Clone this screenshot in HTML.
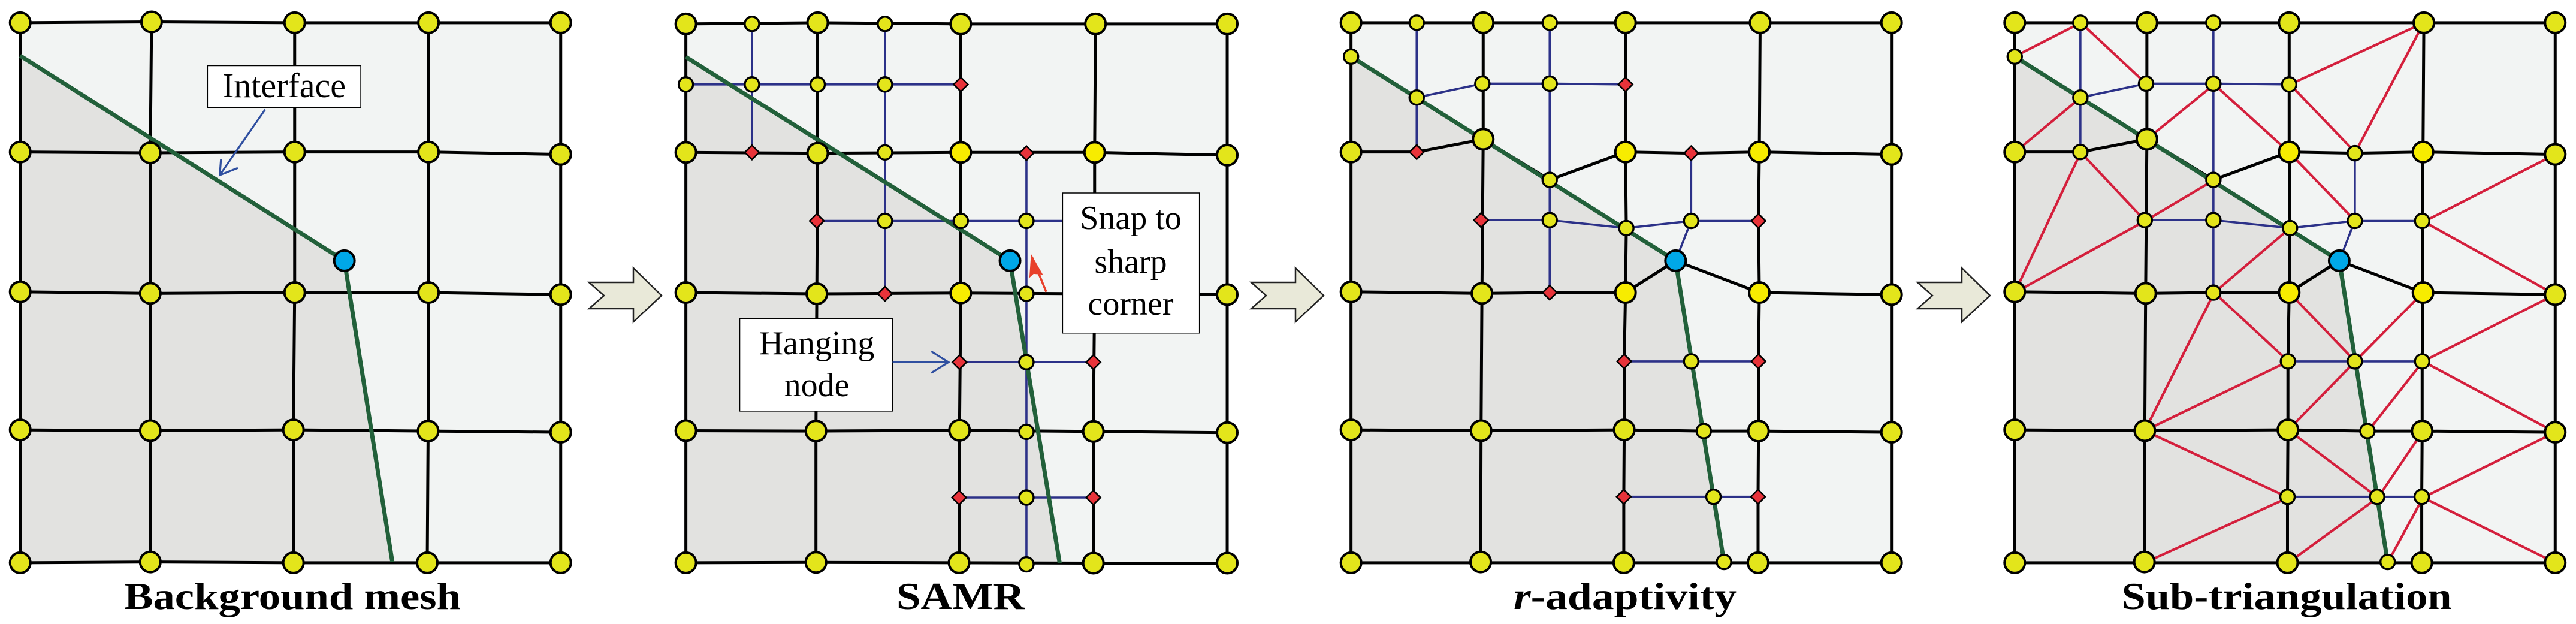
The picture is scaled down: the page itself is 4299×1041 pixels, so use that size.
<!DOCTYPE html>
<html><head><meta charset="utf-8"><style>
html,body{margin:0;padding:0;background:#fff;width:4299px;height:1041px;overflow:hidden}
svg{display:block}
svg *{vector-effect:non-scaling-stroke}
.lt{fill:#f2f4f3;stroke:none}
.dk{fill:#e2e2e0;stroke:none}
.k{fill:none;stroke:#000;stroke-width:5;stroke-linejoin:round}
.bl{fill:none;stroke:#2c3188;stroke-width:3.6}
.rd{fill:none;stroke:#d41f3c;stroke-width:4.2}
.gr{fill:none;stroke:#22603a;stroke-width:7;stroke-linejoin:round}
.n{fill:#e3e51b;stroke:#000;stroke-width:4}
.nb{fill:#f7ec00;stroke:#000;stroke-width:4}
.m{fill:#e3e51b;stroke:#000;stroke-width:3.4}
.c{fill:#00a8e8;stroke:#000;stroke-width:4}
.d{fill:#e8333a;stroke:#000;stroke-width:2.6}
.ch{fill:#e9e9d9;stroke:#222;stroke-width:2.5}
.t{font-family:"Liberation Serif",serif;fill:#000}
</style></head><body>
<svg width="4299" height="1041" viewBox="0 0 4299 1041" xmlns="http://www.w3.org/2000/svg">

<!-- PANEL 1 -->
<g transform="translate(0,0) scale(0.7025,0.664)">
<polygon class="lt" points="48,57 1332,57 1332,1414 48,1414"/>
<polygon class="dk" points="48,140 818,655 932,1412 48,1414"/>
<polyline class="k" points="48,57 360,55 700,57 1018,57 1332,57"/>
<polyline class="k" points="48,382 357,384 700,382 1018,382 1332,388"/>
<polyline class="k" points="48,733 357,737 700,735 1018,735 1332,740"/>
<polyline class="k" points="48,1080 357,1082 697,1080 1017,1083 1332,1086"/>
<polyline class="k" points="48,1414 357,1412 697,1414 1015,1414 1332,1414"/>
<polyline class="k" points="48,57 48,1414"/>
<polyline class="k" points="360,55 357,384 357,737 357,1082 357,1412"/>
<polyline class="k" points="700,57 700,382 700,735 697,1080 697,1414"/>
<polyline class="k" points="1018,57 1018,382 1018,735 1017,1083 1015,1414"/>
<polyline class="k" points="1332,57 1332,1414"/>
<polyline class="gr" points="48,140 818,655 932,1412"/>
<g class="n">
<ellipse cx="48" cy="57" rx="24.2" ry="25.6"/><ellipse cx="360" cy="55" rx="24.2" ry="25.6"/><ellipse cx="700" cy="57" rx="24.2" ry="25.6"/><ellipse cx="1018" cy="57" rx="24.2" ry="25.6"/><ellipse cx="1332" cy="57" rx="24.2" ry="25.6"/>
<ellipse cx="48" cy="382" rx="24.2" ry="25.6"/><ellipse cx="357" cy="384" rx="24.2" ry="25.6"/><ellipse cx="700" cy="382" rx="24.2" ry="25.6"/><ellipse cx="1018" cy="382" rx="24.2" ry="25.6"/><ellipse cx="1332" cy="388" rx="24.2" ry="25.6"/>
<ellipse cx="48" cy="733" rx="24.2" ry="25.6"/><ellipse cx="357" cy="737" rx="24.2" ry="25.6"/><ellipse cx="700" cy="735" rx="24.2" ry="25.6"/><ellipse cx="1018" cy="735" rx="24.2" ry="25.6"/><ellipse cx="1332" cy="740" rx="24.2" ry="25.6"/>
<ellipse cx="48" cy="1080" rx="24.2" ry="25.6"/><ellipse cx="357" cy="1082" rx="24.2" ry="25.6"/><ellipse cx="697" cy="1080" rx="24.2" ry="25.6"/><ellipse cx="1017" cy="1083" rx="24.2" ry="25.6"/><ellipse cx="1332" cy="1086" rx="24.2" ry="25.6"/>
<ellipse cx="48" cy="1414" rx="24.2" ry="25.6"/><ellipse cx="357" cy="1412" rx="24.2" ry="25.6"/><ellipse cx="697" cy="1414" rx="24.2" ry="25.6"/><ellipse cx="1015" cy="1414" rx="24.2" ry="25.6"/><ellipse cx="1332" cy="1414" rx="24.2" ry="25.6"/>
</g>
<ellipse class="c" cx="818" cy="655" rx="24.2" ry="25.6"/>
<rect x="493" y="165" width="364" height="105" fill="#fff" stroke="#000" stroke-width="1.5"/>
<polyline points="630,275 522,440" fill="none" stroke="#2f4fa0" stroke-width="3.2"/>
<polyline points="525,400 522,440 565,422" fill="none" stroke="#2f4fa0" stroke-width="3.2"/>
</g>
<text class="t" x="474" y="162" font-size="58" text-anchor="middle">Interface</text>

<!-- PANEL 2 -->
<g transform="translate(1080,0) scale(0.7025,0.664)">
<polygon class="lt" points="92,60 1378,60 1378,1415 92,1414"/>
<polygon class="dk" points="92,143 862,655 980,1415 92,1414"/>
<polyline class="k" points="92,60 405,57 745,60 1065,60 1378,60"/>
<polyline class="k" points="92,383 405,385 745,383 1063,383 1378,390"/>
<polyline class="k" points="92,735 403,738 745,736 1063,738 1378,740"/>
<polyline class="k" points="92,1082 401,1083 742,1081 1060,1084 1378,1087"/>
<polyline class="k" points="92,1414 401,1413 741,1414 1060,1415 1378,1415"/>
<polyline class="k" points="92,60 92,1414"/>
<polyline class="k" points="405,57 405,385 403,738 401,1083 401,1413"/>
<polyline class="k" points="745,60 745,383 745,736 742,1081 741,1414"/>
<polyline class="k" points="1065,60 1063,383 1063,738 1060,1084 1060,1415"/>
<polyline class="k" points="1378,60 1378,1415"/>
<polyline class="bl" points="92,212 745,212"/>
<polyline class="bl" points="249,60 249,383"/>
<polyline class="bl" points="565,60 565,736"/>
<polyline class="bl" points="403,555 1063,555"/>
<polyline class="bl" points="901,385 901,1418"/>
<polyline class="bl" points="742,910 1060,910"/>
<polyline class="bl" points="741,1250 1060,1250"/>
<polyline class="gr" points="92,143 862,655 980,1415"/>
<g class="n">
<ellipse cx="92" cy="60" rx="24.2" ry="25.6"/><ellipse cx="405" cy="57" rx="24.2" ry="25.6"/><ellipse cx="745" cy="60" rx="24.2" ry="25.6"/><ellipse cx="1065" cy="60" rx="24.2" ry="25.6"/><ellipse cx="1378" cy="60" rx="24.2" ry="25.6"/>
<ellipse cx="92" cy="383" rx="24.2" ry="25.6"/><ellipse cx="405" cy="385" rx="24.2" ry="25.6"/><ellipse cx="1378" cy="390" rx="24.2" ry="25.6"/>
<ellipse cx="92" cy="735" rx="24.2" ry="25.6"/><ellipse cx="403" cy="738" rx="24.2" ry="25.6"/><ellipse cx="1378" cy="740" rx="24.2" ry="25.6"/>
<ellipse cx="92" cy="1082" rx="24.2" ry="25.6"/><ellipse cx="401" cy="1083" rx="24.2" ry="25.6"/><ellipse cx="742" cy="1081" rx="24.2" ry="25.6"/><ellipse cx="1060" cy="1084" rx="24.2" ry="25.6"/><ellipse cx="1378" cy="1087" rx="24.2" ry="25.6"/>
<ellipse cx="92" cy="1414" rx="24.2" ry="25.6"/><ellipse cx="401" cy="1413" rx="24.2" ry="25.6"/><ellipse cx="741" cy="1414" rx="24.2" ry="25.6"/><ellipse cx="1060" cy="1415" rx="24.2" ry="25.6"/><ellipse cx="1378" cy="1415" rx="24.2" ry="25.6"/>
</g>
<g class="nb"><ellipse cx="745" cy="383" rx="24.2" ry="25.6"/><ellipse cx="1063" cy="383" rx="24.2" ry="25.6"/><ellipse cx="745" cy="736" rx="24.2" ry="25.6"/></g>
<g class="m">
<ellipse cx="249" cy="60" rx="17.1" ry="18.1"/><ellipse cx="565" cy="60" rx="17.1" ry="18.1"/><ellipse cx="92" cy="212" rx="17.1" ry="18.1"/><ellipse cx="249" cy="212" rx="17.1" ry="18.1"/><ellipse cx="405" cy="212" rx="17.1" ry="18.1"/><ellipse cx="565" cy="212" rx="17.1" ry="18.1"/><ellipse cx="565" cy="383" rx="17.1" ry="18.1"/><ellipse cx="565" cy="555" rx="17.1" ry="18.1"/><ellipse cx="745" cy="555" rx="17.1" ry="18.1"/><ellipse cx="901" cy="555" rx="17.1" ry="18.1"/><ellipse cx="901" cy="738" rx="17.1" ry="18.1"/><ellipse cx="901" cy="910" rx="17.1" ry="18.1"/><ellipse cx="901" cy="1085" rx="17.1" ry="18.1"/><ellipse cx="901" cy="1250" rx="17.1" ry="18.1"/><ellipse cx="901" cy="1418" rx="17.1" ry="18.1"/>
</g>
<g class="d">
<polygon points="745,194 762,212 745,230 728,212"/><polygon points="249,365 266,383 249,401 232,383"/><polygon points="901,367 918,385 901,403 884,385"/><polygon points="403,537 420,555 403,573 386,555"/><polygon points="565,720 582,738 565,756 548,738"/><polygon points="742,892 759,910 742,928 725,910"/><polygon points="1060,892 1077,910 1060,928 1043,910"/><polygon points="741,1232 758,1250 741,1268 724,1250"/><polygon points="1060,1232 1077,1250 1060,1268 1043,1250"/>
</g>
<ellipse class="c" cx="862" cy="655" rx="24.2" ry="25.6"/>
<rect x="987" y="485" width="325" height="352" fill="#fff" stroke="#000" stroke-width="1.5"/>
<rect x="220" y="800" width="363" height="233" fill="#fff" stroke="#000" stroke-width="1.5"/>
<polyline points="948,733 914,645" fill="none" stroke="#e8402a" stroke-width="3.5"/>
<polygon points="912,638 940,690 918,688 908,698" fill="#e8402a"/>
<polyline points="583,910 716,910" fill="none" stroke="#2f4fa0" stroke-width="3.2"/>
<polyline points="675,883 716,910 675,937" fill="none" stroke="#2f4fa0" stroke-width="3.2"/>
</g>
<text class="t" font-size="56" text-anchor="middle"><tspan x="1887" y="382">Snap to</tspan><tspan x="1887" y="455">sharp</tspan><tspan x="1887" y="525">corner</tspan></text>
<text class="t" font-size="56" text-anchor="middle"><tspan x="1363" y="591">Hanging</tspan><tspan x="1363" y="661">node</tspan></text>

<!-- PANEL 3 base -->
<g id="p3base" transform="translate(2150,0) scale(0.7025,0.664)">
<polygon class="lt" points="149,57 1433,57 1433,1414 149,1414"/>
<polygon class="dk" points="149,142 920,655 1035,1412 149,1414"/>
<polyline class="k" points="149,57 1433,57"/>
<polyline class="k" points="149,57 149,1414"/>
<polyline class="k" points="149,382 305,382 463,350 621,452 801,382 957,385 1119,382 1433,388"/>
<polyline class="k" points="463,57 463,350 460,737 458,1082 457,1412"/>
<polyline class="k" points="801,57 801,382 803,573 801,735 798,908 798,1080 797,1248 797,1414"/>
<polyline class="k" points="1121,57 1119,382 1117,555 1119,735 1117,908 1117,1083 1116,1248 1116,1414"/>
<polyline class="k" points="1433,57 1433,1414"/>
<polyline class="k" points="149,733 460,737 621,735 801,735 920,655 1119,735 1433,740"/>
<polyline class="k" points="149,1080 458,1082 798,1080 987,1083 1117,1083 1433,1086"/>
<polyline class="k" points="149,1414 1433,1414"/>
<polyline class="bl" points="305,57 305,382"/>
<polyline class="bl" points="305,245 461,210 621,210 801,212"/>
<polyline class="bl" points="621,57 621,735"/>
<polyline class="bl" points="458,553 621,553 803,573 957,555 1117,555"/>
<polyline class="bl" points="957,385 957,555 920,655"/>
<polyline class="bl" points="798,908 957,908 1117,908"/>
<polyline class="bl" points="797,1248 1010,1248 1116,1248"/>
</g>

<!-- PANEL 4 base via reuse + red -->
<use href="#p3base" transform="translate(1107.6,0)"/>
<g transform="translate(3200,0) scale(0.7025,0.664)">
<g class="rd">
<line x1="231" y1="142" x2="388" y2="57"/><line x1="388" y1="57" x2="543" y2="210"/><line x1="388" y1="245" x2="231" y2="383"/><line x1="545" y1="350" x2="705" y2="212"/><line x1="705" y1="212" x2="883" y2="383"/><line x1="885" y1="212" x2="1203" y2="57"/><line x1="885" y1="212" x2="1040" y2="383"/><line x1="1040" y1="383" x2="1203" y2="57"/><line x1="388" y1="383" x2="231" y2="735"/><line x1="388" y1="383" x2="541" y2="555"/><line x1="541" y1="555" x2="231" y2="735"/><line x1="541" y1="555" x2="705" y2="452"/><line x1="883" y1="383" x2="1040" y2="555"/><line x1="885" y1="573" x2="705" y2="735"/><line x1="1203" y1="557" x2="1515" y2="388"/><line x1="1203" y1="557" x2="1515" y2="740"/><line x1="705" y1="735" x2="540" y2="1082"/><line x1="705" y1="735" x2="881" y2="908"/><line x1="883" y1="735" x2="1040" y2="908"/><line x1="1040" y1="908" x2="1201" y2="735"/><line x1="881" y1="908" x2="540" y2="1082"/><line x1="1040" y1="908" x2="881" y2="1080"/><line x1="1201" y1="908" x2="1515" y2="740"/><line x1="1201" y1="908" x2="1515" y2="1086"/><line x1="1201" y1="908" x2="1069" y2="1085"/><line x1="540" y1="1082" x2="881" y2="1250"/><line x1="881" y1="1080" x2="1094" y2="1250"/><line x1="1094" y1="1250" x2="1201" y2="1083"/><line x1="881" y1="1250" x2="540" y2="1414"/><line x1="1094" y1="1250" x2="881" y2="1414"/><line x1="1201" y1="1250" x2="1515" y2="1086"/><line x1="1201" y1="1250" x2="1515" y2="1414"/><line x1="1201" y1="1250" x2="1117" y2="1414"/>
</g>
</g>

<!-- PANEL 3 top -->
<g id="p3top" transform="translate(2150,0) scale(0.7025,0.664)">
<polyline class="gr" points="149,142 920,655 1035,1412"/>
<g class="n">
<ellipse cx="149" cy="57" rx="24.2" ry="25.6"/><ellipse cx="463" cy="57" rx="24.2" ry="25.6"/><ellipse cx="801" cy="57" rx="24.2" ry="25.6"/><ellipse cx="1121" cy="57" rx="24.2" ry="25.6"/><ellipse cx="1433" cy="57" rx="24.2" ry="25.6"/>
<ellipse cx="149" cy="382" rx="24.2" ry="25.6"/><ellipse cx="463" cy="350" rx="24.2" ry="25.6"/><ellipse cx="1433" cy="388" rx="24.2" ry="25.6"/>
<ellipse cx="149" cy="733" rx="24.2" ry="25.6"/><ellipse cx="460" cy="737" rx="24.2" ry="25.6"/><ellipse cx="1433" cy="740" rx="24.2" ry="25.6"/>
<ellipse cx="149" cy="1080" rx="24.2" ry="25.6"/><ellipse cx="458" cy="1082" rx="24.2" ry="25.6"/><ellipse cx="798" cy="1080" rx="24.2" ry="25.6"/><ellipse cx="1117" cy="1083" rx="24.2" ry="25.6"/><ellipse cx="1433" cy="1086" rx="24.2" ry="25.6"/>
<ellipse cx="149" cy="1414" rx="24.2" ry="25.6"/><ellipse cx="457" cy="1412" rx="24.2" ry="25.6"/><ellipse cx="797" cy="1414" rx="24.2" ry="25.6"/><ellipse cx="1116" cy="1414" rx="24.2" ry="25.6"/><ellipse cx="1433" cy="1414" rx="24.2" ry="25.6"/>
</g>
<g class="nb"><ellipse cx="801" cy="382" rx="24.2" ry="25.6"/><ellipse cx="1119" cy="382" rx="24.2" ry="25.6"/><ellipse cx="801" cy="735" rx="24.2" ry="25.6"/><ellipse cx="1119" cy="735" rx="24.2" ry="25.6"/></g>
<g class="m">
<ellipse cx="305" cy="57" rx="17.1" ry="18.1"/><ellipse cx="621" cy="57" rx="17.1" ry="18.1"/><ellipse cx="149" cy="142" rx="17.1" ry="18.1"/><ellipse cx="461" cy="210" rx="17.1" ry="18.1"/><ellipse cx="621" cy="210" rx="17.1" ry="18.1"/><ellipse cx="305" cy="245" rx="17.1" ry="18.1"/><ellipse cx="621" cy="452" rx="17.1" ry="18.1"/><ellipse cx="621" cy="553" rx="17.1" ry="18.1"/><ellipse cx="803" cy="573" rx="17.1" ry="18.1"/><ellipse cx="957" cy="555" rx="17.1" ry="18.1"/><ellipse cx="957" cy="908" rx="17.1" ry="18.1"/><ellipse cx="987" cy="1083" rx="17.1" ry="18.1"/><ellipse cx="1010" cy="1248" rx="17.1" ry="18.1"/><ellipse cx="1035" cy="1412" rx="17.1" ry="18.1"/>
</g>
<ellipse class="c" cx="920" cy="655" rx="24.2" ry="25.6"/>
</g>
<g transform="translate(2150,0) scale(0.7025,0.664)">
<g class="d">
<polygon points="801,194 818,212 801,230 784,212"/><polygon points="305,364 322,382 305,400 288,382"/><polygon points="957,367 974,385 957,403 940,385"/><polygon points="458,535 475,553 458,571 441,553"/><polygon points="1117,537 1134,555 1117,573 1100,555"/><polygon points="621,717 638,735 621,753 604,735"/><polygon points="798,890 815,908 798,926 781,908"/><polygon points="1117,890 1134,908 1117,926 1100,908"/><polygon points="797,1230 814,1248 797,1266 780,1248"/><polygon points="1116,1230 1133,1248 1116,1266 1099,1248"/>
</g>
</g>

<!-- PANEL 4 top -->
<use href="#p3top" transform="translate(1107.6,0)"/>
<g transform="translate(3257.6,0) scale(0.7025,0.664)">
<g class="m">
<ellipse cx="801" cy="212" rx="17.1" ry="18.1"/><ellipse cx="305" cy="382" rx="17.1" ry="18.1"/><ellipse cx="957" cy="385" rx="17.1" ry="18.1"/><ellipse cx="458" cy="553" rx="17.1" ry="18.1"/><ellipse cx="1117" cy="555" rx="17.1" ry="18.1"/><ellipse cx="621" cy="735" rx="17.1" ry="18.1"/><ellipse cx="798" cy="908" rx="17.1" ry="18.1"/><ellipse cx="1117" cy="908" rx="17.1" ry="18.1"/><ellipse cx="797" cy="1248" rx="17.1" ry="18.1"/><ellipse cx="1116" cy="1248" rx="17.1" ry="18.1"/>
</g>
</g>

<!-- chevron arrows -->
<polygon class="ch" points="983,471 1057,471 1057,447 1104,493 1057,537 1057,515 983,515 1008,493"/>
<polygon class="ch" transform="translate(1105,0)" points="983,471 1057,471 1057,447 1104,493 1057,537 1057,515 983,515 1008,493"/>
<polygon class="ch" transform="translate(2217,0)" points="983,471 1057,471 1057,447 1104,493 1057,537 1057,515 983,515 1008,493"/>

<!-- labels -->
<text class="t" x="488" y="1016" font-size="64" font-weight="bold" text-anchor="middle" textLength="562" lengthAdjust="spacingAndGlyphs">Background mesh</text>
<text class="t" x="1603" y="1016" font-size="64" font-weight="bold" text-anchor="middle" textLength="214" lengthAdjust="spacingAndGlyphs">SAMR</text>
<text class="t" x="2712" y="1016" font-size="64" font-weight="bold" text-anchor="middle" textLength="372" lengthAdjust="spacingAndGlyphs"><tspan font-style="italic">r</tspan>-adaptivity</text>
<text class="t" x="3816" y="1016" font-size="64" font-weight="bold" text-anchor="middle" textLength="551" lengthAdjust="spacingAndGlyphs">Sub-triangulation</text>
</svg>
</body></html>
